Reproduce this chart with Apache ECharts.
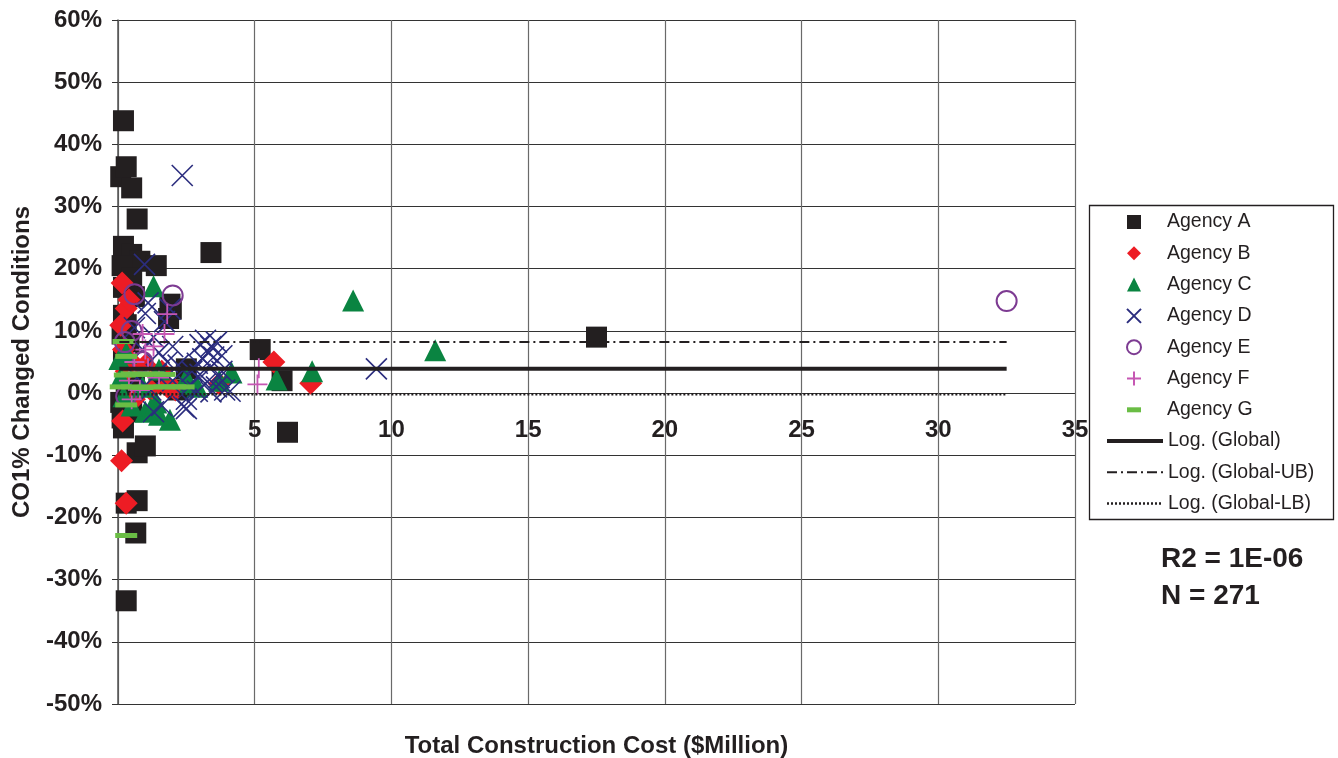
<!DOCTYPE html>
<html>
<head>
<meta charset="utf-8">
<script src="https://cdn.jsdelivr.net/npm/echarts@6/dist/echarts.min.js"></script>
<style>
  html, body { margin: 0; padding: 0; background: #fff; }
  #chart { width: 1338px; height: 758px; }
</style>
</head>
<body>
<div id="chart"></div>
<script>
// Total construction cost ($ million) vs. CO1 % changed conditions, by agency
const xTicks = [0, 5, 10, 15, 20, 25, 30, 35];
const yTicks = [-50, -40, -30, -20, -10, 0, 10, 20, 30, 40, 50, 60];

const agencyA = [
  [0.2, 43.8], [0.1, 34.8], [0.3, 36.4], [0.5, 33.0], [0.7, 28.0], [0.2, 23.6], [0.5, 22.3],
  [0.8, 21.2], [1.4, 20.5], [3.4, 22.6], [0.15, 20.5], [0.2, 17.0], [0.5, 18.5], [0.6, 15.5],
  [0.2, 12.5], [0.3, 11.0], [1.9, 14.3], [1.85, 12.0], [1.95, 13.5], [0.15, 9.5], [0.4, 8.0],
  [0.2, 5.5], [0.6, 3.0], [0.3, 1.0], [0.1, -1.5], [0.5, -3.0], [0.2, -5.6], [0.15, -4.0],
  [0.7, -9.6], [1.0, -8.5], [0.3, -17.7], [0.7, -17.3], [0.65, -22.5], [0.3, -33.4],
  [2.5, 3.9], [5.2, 7.0], [6.0, 2.0], [6.2, -6.3], [17.5, 9.0], [1.5, 1.5], [2.2, 0.5]
];
const agencyB = [
  [0.15, 17.7], [0.3, 13.6], [0.1, 10.9], [0.4, 15.0], [0.2, 7.0], [0.5, 5.0], [0.3, 3.5],
  [1.0, 4.5], [1.6, 3.5], [1.8, 1.0], [2.1, 0.5], [3.7, 1.5], [0.17, -4.5], [0.13, -10.9],
  [0.3, -17.7], [5.7, 5.0], [7.05, 1.6], [0.6, -1.0], [1.2, 0.5]
];
const agencyC = [
  [1.3, 17.2], [8.6, 14.9], [11.6, 6.9], [7.1, 3.5], [5.8, 2.2], [4.15, 3.3], [1.9, -4.3],
  [1.2, -2.5], [1.0, -3.0], [1.5, -3.5], [0.05, 5.5], [0.1, 2.5], [0.2, -0.5], [0.9, 1.0],
  [2.6, 1.5], [2.9, 1.0], [1.4, -1.5], [0.5, -2.0], [2.5, 2.5], [3.7, 2.0], [0.3, 6.5], [1.5, 3.8]
];
const agencyD = [
  [2.35, 35.0], [0.97, 20.7], [1.1, 14.5], [1.0, 12.8], [1.9, 13.5], [1.7, 11.5], [0.6, 10.5],
  [1.3, 9.0], [0.9, 7.0], [1.5, 6.5], [2.0, 7.5], [1.8, 5.0], [2.2, 4.5], [1.4, 3.0], [0.7, 2.5],
  [2.0, 2.0], [1.2, 0.5], [1.6, -2.0], [2.4, -2.2], [1.3, -3.0], [2.5, -2.5], [3.0, 7.8],
  [3.2, 8.5], [3.4, 7.5], [3.6, 8.2], [3.3, 6.5], [3.1, 5.5], [3.5, 5.8], [2.9, 4.8], [3.4, 4.2],
  [3.8, 3.5], [3.0, 3.0], [3.2, 1.5], [3.6, 1.0], [3.9, 0.5], [3.4, 0.2], [2.9, 0.3], [3.7, 2.5],
  [2.6, 1.0], [4.1, 0.3], [2.7, 3.5], [3.8, 6.0], [9.45, 3.9], [2.5, -1.0]
];
const agencyE = [
  [32.5, 14.8], [2.0, 15.7], [0.6, 15.9], [0.25, 8.2], [0.5, 10.0], [0.3, -0.5], [0.9, 5.0]
];
const agencyF = [
  [5.1, 1.4], [5.15, 4.0], [1.8, 12.7], [0.9, 9.5], [1.7, 9.5], [1.0, 7.0], [0.6, 5.0],
  [1.1, 4.0], [0.4, 2.0], [0.8, 0.5], [1.3, 7.5], [0.5, -1.0], [1.5, 2.5]
];
const agencyG = [
  [0.3, -22.9], [0.2, 8.3], [0.3, 5.9], [0.25, 2.9], [0.5, 3.1], [0.9, 3.0], [1.3, 3.1],
  [1.7, 3.0], [0.1, 1.0], [0.5, 1.0], [0.9, 0.9], [1.3, 1.0], [1.7, 1.0], [2.1, 1.0],
  [2.4, 1.0], [0.3, -1.9]
];

// fitted trend lines (log fit is practically flat over this range)
const trendGlobal = [[0.05, 3.9], [32.5, 3.9]];
const trendUB = [[0.05, 8.2], [32.5, 8.2]];
const trendLB = [[0.05, -0.2], [32.5, -0.2]];

const agencyNames = ['Agency A', 'Agency B', 'Agency C', 'Agency D', 'Agency E', 'Agency F', 'Agency G'];
const trendNames = ['Log. (Global)', 'Log. (Global-UB)', 'Log. (Global-LB)'];

const statR2 = 'R2 = 1E-06';
const statN = 'N = 271';

const INK = '#231f20';
const FONT = '"Liberation Sans", Arial, sans-serif';

const chart = echarts.init(document.getElementById('chart'), null, { renderer: 'canvas' });

function scatter(name, data, symbol, size, style) {
  return {
    name, type: 'scatter', data, symbol, symbolSize: size,
    itemStyle: Object.assign({ opacity: 1 }, style)
  };
}
function trend(name, data, width, type) {
  return {
    name, type: 'line', data, symbol: 'none', silent: true,
    lineStyle: { color: INK, width, type },
    itemStyle: { color: 'rgba(0,0,0,0)', borderWidth: 0 }, z: 5
  };
}

const legendText = { fontFamily: FONT, fontSize: 19.5, color: INK, lineHeight: 20 };

// legend entries for the agencies; the dash marker gets a flat icon
const agencyLegendData = agencyNames.map(n =>
  n === 'Agency G' ? { name: n, icon: 'path://M0,0h14v5h-14z' } : n);

chart.setOption({
  animation: false,
  backgroundColor: '#fff',
  grid: { left: 118, top: 20, right: 263, bottom: 54, outerBoundsMode: 'none' },
  xAxis: {
    type: 'value', position: 'bottom', min: xTicks[0], max: xTicks[xTicks.length - 1], interval: 5,
    name: 'Total Construction Cost ($Million)', nameLocation: 'middle', nameGap: 30,
    nameTextStyle: { fontFamily: FONT, fontWeight: 'bold', fontSize: 24, color: INK },
    axisLine: { show: false, onZero: false },
    axisTick: { show: false },
    // tick labels sit just under the 0% line, which the axis crosses at
    axisLabel: { showMinLabel: false, margin: -286, fontFamily: FONT, fontWeight: 'bold', fontSize: 24, color: INK },
    splitLine: { show: true, lineStyle: { color: '#6a6a6a', width: 1.2 } }
  },
  yAxis: {
    type: 'value', min: yTicks[0], max: yTicks[yTicks.length - 1], interval: 10,
    name: 'CO1% Changed Conditions', nameLocation: 'middle', nameGap: 84, nameRotate: 90,
    nameTextStyle: { fontFamily: FONT, fontWeight: 'bold', fontSize: 24, color: INK },
    axisLine: { show: true, onZero: false, lineStyle: { color: '#555', width: 1.5 } },
    axisTick: { show: true, length: 6, lineStyle: { color: '#333' } },
    axisLabel: { formatter: '{value}%', margin: 16, fontFamily: FONT, fontWeight: 'bold', fontSize: 24, color: INK },
    splitLine: { show: true, lineStyle: { color: '#333', width: 1.2 } }
  },
  legend: [
    {
      orient: 'vertical', left: 1121, top: 207, padding: 5,
      itemWidth: 14, itemHeight: 14, itemGap: 11.3,
      textStyle: Object.assign({ padding: [0, 0, 0, 21] }, legendText),
      data: agencyLegendData
    },
    {
      orient: 'vertical', left: 1100, top: 426, padding: 5,
      itemWidth: 56, itemHeight: 14, itemGap: 11.3,
      lineStyle: { width: 'inherit', type: 'inherit' },
      textStyle: legendText,
      data: trendNames
    }
  ],
  graphic: [
    { type: 'rect', left: 1087, top: 203, shape: { width: 244, height: 314 },
      style: { fill: 'none', stroke: INK, lineWidth: 1.3 }, silent: true },
    { type: 'text', left: 1161, top: 545,
      style: { text: statR2, font: 'bold 28px ' + FONT, fill: INK } },
    { type: 'text', left: 1161, top: 582,
      style: { text: statN, font: 'bold 28px ' + FONT, fill: INK } }
  ],
  series: [
    scatter(agencyNames[0], agencyA, 'rect', 21, { color: INK }),
    scatter(agencyNames[1], agencyB, 'diamond', 23, { color: '#ed1c24' }),
    scatter(agencyNames[2], agencyC, 'triangle', 22, { color: '#0a8441' }),
    scatter(agencyNames[3], agencyD, 'path://M0,0L20,20M20,0L0,20', 21,
      { color: '#2b2d7e', borderColor: '#2b2d7e', borderWidth: 1.6 }),
    scatter(agencyNames[4], agencyE, 'circle', 20,
      { color: 'rgba(255,255,255,0)', borderColor: '#7d3b92', borderWidth: 2 }),
    scatter(agencyNames[5], agencyF, 'path://M10,0L10,20M0,10L20,10', 20,
      { color: '#c657b3', borderColor: '#c657b3', borderWidth: 1.8 }),
    scatter(agencyNames[6], agencyG, 'rect', [22, 5], { color: '#6abd45' }),
    trend(trendNames[0], trendGlobal, 4, 'solid'),
    trend(trendNames[1], trendUB, 2, [10, 4, 2, 4]),
    trend(trendNames[2], trendLB, 2.5, [2, 2])
  ]
});
</script>
</body>
</html>
